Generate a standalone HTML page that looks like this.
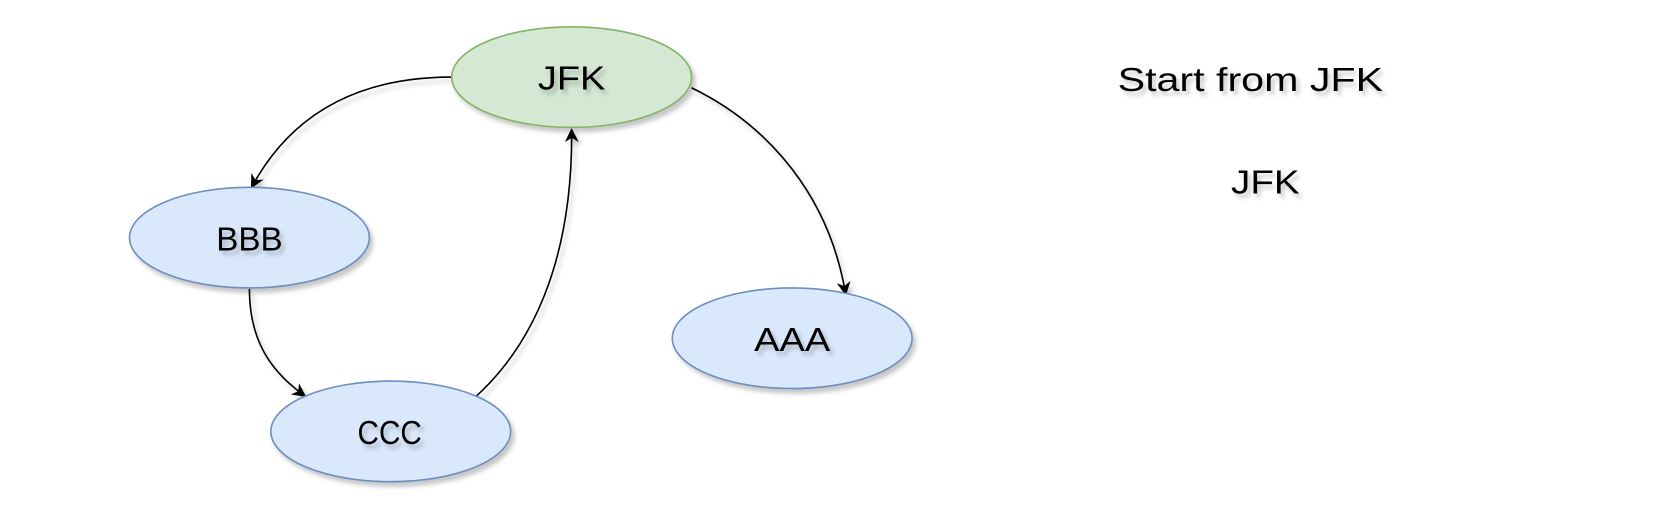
<!DOCTYPE html>
<html><head><meta charset="utf-8"><style>
html,body{margin:0;padding:0;background:#fff;}
svg{display:block}
text{font-family:"Liberation Sans",sans-serif;font-size:31px;fill:#000;text-anchor:middle;dominant-baseline:central}
</style></head><body>
<svg width="1670" height="530" viewBox="0 0 1670 530" xmlns="http://www.w3.org/2000/svg">
<defs>
<filter id="sh" x="-20%" y="-20%" width="150%" height="160%"><feDropShadow dx="3" dy="4" stdDeviation="2" flood-color="#000" flood-opacity="0.22"/></filter>
<marker id="ar" viewBox="0 0 10 10" refX="9" refY="5" markerWidth="13" markerHeight="13" orient="auto" markerUnits="userSpaceOnUse"><path d="M0,0 L10,5 L0,10 L3,5 z" fill="#000"/></marker>
</defs>
<g transform="scale(1.0705)">
<g fill="none" stroke="#000" stroke-width="1.5" filter="url(#sh)">
<path d="M422,72 C330,72 270,110 235,175" marker-end="url(#ar)"/>
<path d="M646,82 C720,118 775,185 790,275" marker-end="url(#ar)"/>
<path d="M233,270 C233,315 250,345 285,370" marker-end="url(#ar)"/>
<path d="M445,370 C505,315 535,230 534,121" marker-end="url(#ar)"/>
</g>
<g filter="url(#sh)" stroke-width="1.5">
<ellipse cx="534" cy="72" rx="112" ry="47" fill="#d5e8d4" stroke="#82b366"/>
<ellipse cx="233" cy="222" rx="112" ry="47" fill="#dae8fc" stroke="#6c8ebf"/>
<ellipse cx="365" cy="403" rx="112" ry="47" fill="#dae8fc" stroke="#6c8ebf"/>
<ellipse cx="740" cy="316" rx="112" ry="47" fill="#dae8fc" stroke="#6c8ebf"/>
</g>
<g filter="url(#sh)">
<text x="534" y="74" textLength="63" lengthAdjust="spacingAndGlyphs">JFK</text>
<text x="233" y="224" textLength="62" lengthAdjust="spacingAndGlyphs">BBB</text>
<text x="364" y="405" textLength="60" lengthAdjust="spacingAndGlyphs">CCC</text>
<text x="740" y="318" textLength="71" lengthAdjust="spacingAndGlyphs">AAA</text>
<text x="1168" y="75" textLength="248" lengthAdjust="spacingAndGlyphs">Start from JFK</text>
<text x="1182" y="171" textLength="64" lengthAdjust="spacingAndGlyphs">JFK</text>
</g>
</g>
</svg>
</body></html>
